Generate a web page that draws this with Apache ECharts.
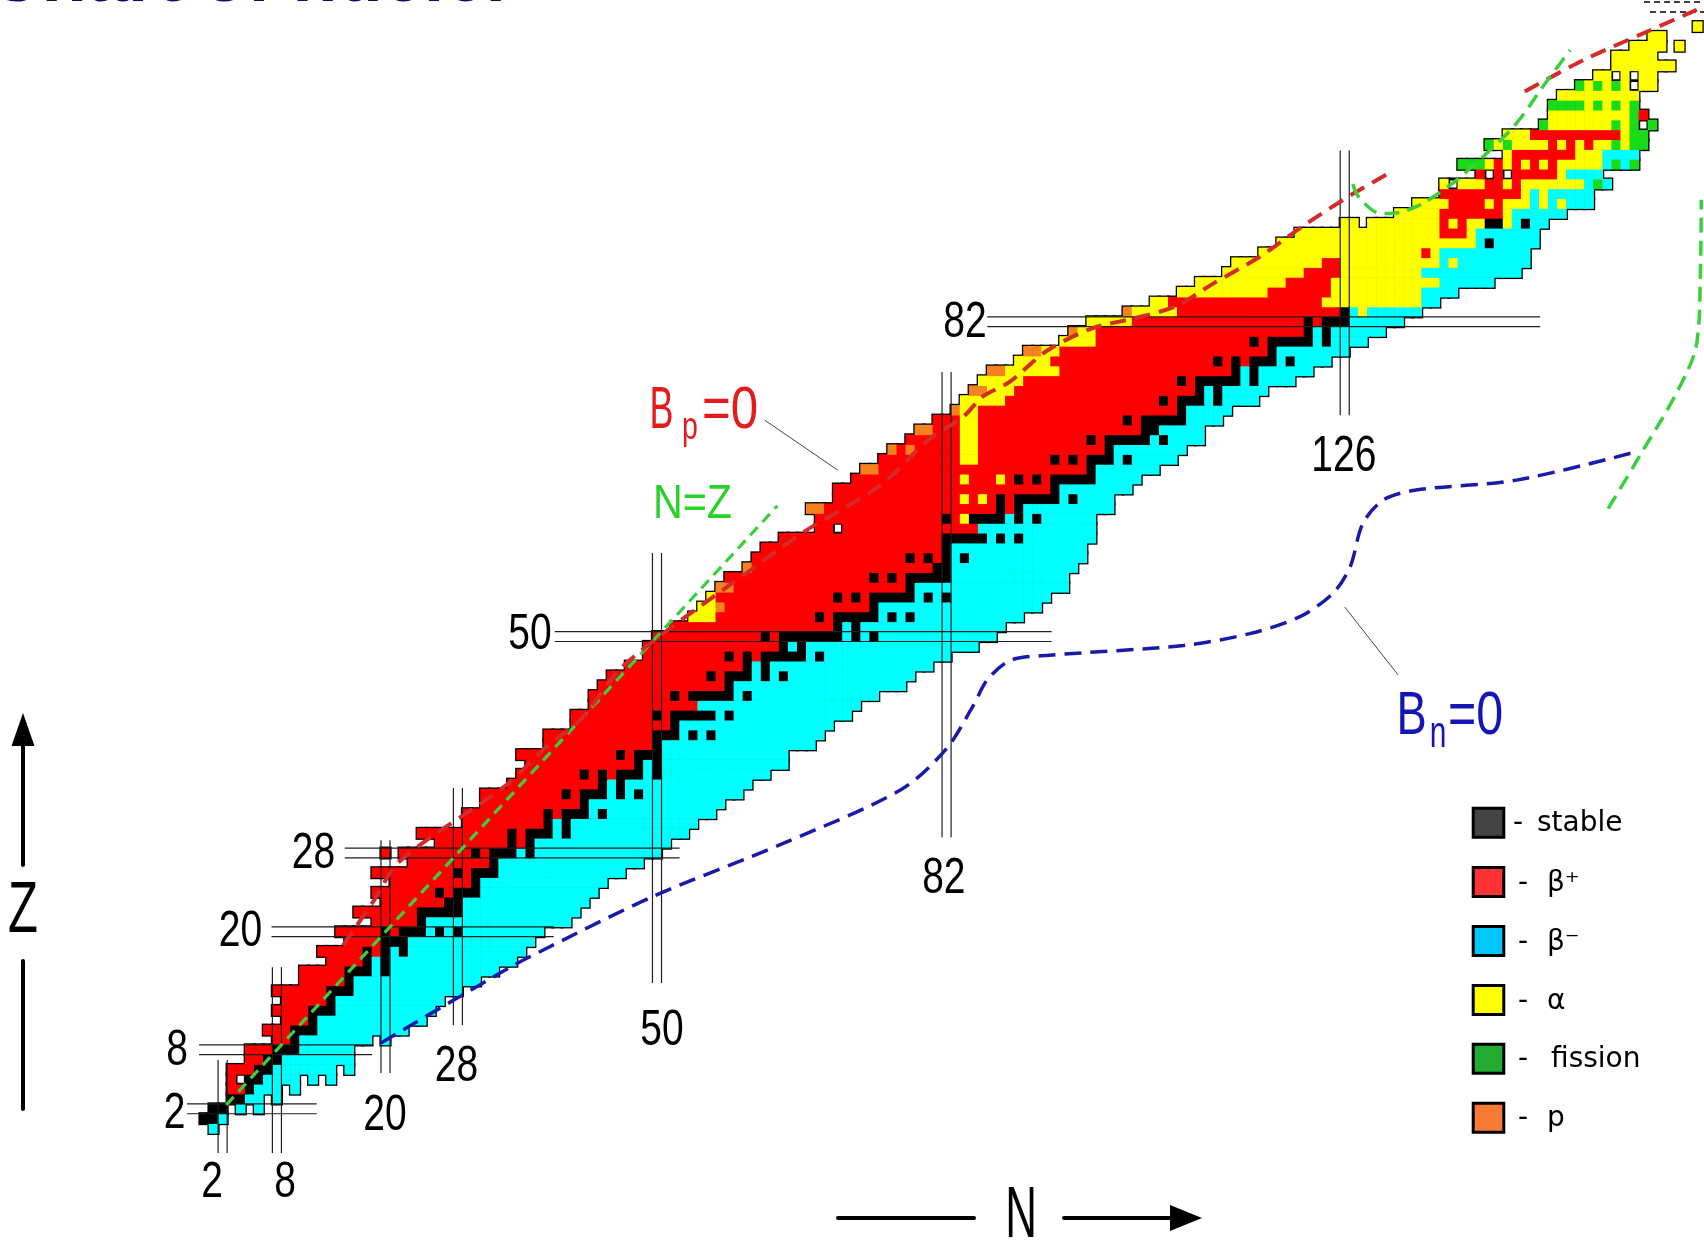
<!DOCTYPE html>
<html>
<head>
<meta charset="utf-8">
<script src="https://cdn.jsdelivr.net/npm/echarts@6/dist/echarts.min.js"></script>
<style>html,body{margin:0;padding:0;background:#fff;}#chart{width:1704px;height:1245px;}</style>
</head>
<body>
<div id="chart"></div>
<script>
// ---- nuclide rows: index = Z, first N of the row, run-length cell codes ----
// K stable, R beta+, C beta-, Y alpha, G fission, O proton, W unclassified, . none
const rowStartN = [1,0,1,3,3,3,3,5,5,8, 7,9,8,9,8,11,11,14,13,16, 15,19,17,20,19,21,19,23,20,26,
  24,29,29,31,31,34,35,36,35,38, 38,41,41,43,43,44,45,47,49,49, 50,52,54,55,56,57,58,60,61,62,
  64,68,68,67,70,70,72,73,75,76, 78,79,81,83,84,85,86,87,90,91, 95,96,98,102,105,108,110,113,114,117,
  119,121,126,132,134,137,137,141,139,144, 142,144,148,149,149,150,152,154,156,156, 158,160,165];
const rowCells = [
  "C","2KC","2K.C.C","2K2C.C","2RK3C.C","RW2K4C.C.C","3R2K7C.C","2R2K8C","3R3K6C","2RK8C.C",
  "3R3K10C","3RK12C","4R3K11C","5RK12C","6R3K12C","5RK14C","5R3KCK12C","4RKCK14C","5RKRKCK13C","4R3K14C",
  "5RKR3KCKCK9C","5RK16C","7R5K13C","7R2K14C","7RKR3K13C","9RK14C","9RKR3K14C","9RK16C","R.8RKR3KCK14C","8RKRK15C",
  "10RKR3KCK13C","9RKCK14C","9RKR3KCK12C","11RK15C","9RKR3KCKCK11C","10RKCK14C","7RKRKR3KCK12C","12RKCK14C","11RKR3K14C","12RK17C",
  "12R3KCKCK12C","11RK17C","9RKR5KCK13C","12R18C","9RKR5KCK14C","14RK19C","11RKR3KCKCK14C","13RKCK18C","9RKRKR5KCK14C","15RKCK19C",
  "12RKR7KCKCK13C","18RKCK16C","3Y11RKR5KCKCK12C","2YO16RK18C","Y13RKRKR5KCKCK11C","2O19RK17C","16RKRKR5K13C","O20R2K14C","17RKRKRKCK13C","20RK15C",
  "18R5KCKCK8C","2RW15R13C","14RKRY4KCKCK6C","2O19RKRK10C","14RYRYRKR5KCK4C","24RK8C","12RY3RYRKRKR5K5C","2O23RK7C","9R2Y8RKRKR3KCK5C","ORO5R2Y14RK8C",
  "6R2Y12RKR5KCK4C","2O3R2Y18R2K5C","3R2Y16RKR5K4C","O2Y22RK5C","5Y17RKR3KCK4C","2O3Y20RKCK5C","5Y17RKR5KCK4C","2O6Y19RKCK6C","4Y18RKRKR3KCK4C","2O2Y23RK8C",
  "4Y17RKR5KCK4C","O2Y23RKCK6C","5Y19RKR3K6C","O5Y18RKCY6C","2Y17R11Y2C","10Y7R10Y4C","10Y5R12Y6C","9Y4R9Y11C","10Y2R11YCY8C","18YRY10C",
  "22YCK5C","16Y3RY7C","2Y.8YRYR2Y2KYCK2C","5Y7RY6C","4Y4RYR3YCYCY3C","9RYCY5C","YW3Y2RYR7YCGC","RWRW5RY4C","3GYRYRYRYR5YCGCG","Y7R3Y4C",
  "GYG4YRYRYR2YGY2G","3Y10RY2G","G7YGYGWG","9YGR","4GYGYGYG","9Y","GYGYGYW2Y","2YWYW2Y","7Y","5Y",
  "4Y.Y","2Y","Y"
];

// ---- magic numbers ----
const magicN = [2, 8, 20, 28, 50, 82, 126];
const magicNSpanZ = [[-2.5,6.96],[-2.5,16.4],[5.64,29.3],[10.5,34.6],[14.8,58.5],[29.6,76.9],[72.5,99.4]];
const magicNLabelPos = [[0.83,-5.59],[8.9,-5.59],[19.94,1.27],[27.85,6.2],[50.55,9.86],[81.7,25.36],[125.9,68.2]];
const magicZ = [2, 8, 20, 28, 50, 82];
const magicZSpanN = [[-1.93,12.4],[-0.6,18.5],[7.4,38.6],[15.5,52.5],[38.7,93.6],[86.5,147.6]];
const magicZLabelPos = [[-3.31,1.42],[-3.04,7.88],[3.98,19.92],[12.04,27.85],[35.97,50.1],[84.03,81.8]];

// ---- drip lines and reference lines (N, Z) ----
const protonDrip1 = [[15.3,18.6],[18.6,23],[21.6,27.2],[33.2,34.8],[37.8,38.8],[41.5,41.5],[46.6,47.3],[61.9,57.8],[66.5,60.8],[70.4,62.9],[75,65.6],[80,70],[83.8,72.3],[86,74.4],[89,75.9],[93,79],[98,81.3],[103,82.4],[107.4,83.6],[111.5,85.9],[116.6,88.6],[121.5,91.8],[126.9,95],[131.1,97.2]];
const protonDrip2 = [[145.9,105.4],[152.4,108.6],[159.7,111.6],[164.9,113.7]];
const neutronDrip = [[19.5,8.7],[33.8,16.4],[38.2,18.5],[49.6,23.6],[64,29],[76.9,34.4],[81.9,38.5],[84.9,42.9],[86.5,45.6],[89.1,47.6],[93.4,48.1],[108.2,49.1],[115.5,50.3],[121,52],[124.7,54.4],[126.6,57.1],[128,61.5],[130.3,63.9],[133.9,64.9],[145,65.9],[158.3,68.8]];
const lineNZ = [[2.4,2.4],[63.3,63.3]];
const fissionTop = [[126.9,96.0],[127.7,94.5],[130.2,93],[132.8,93.3],[136.9,95.4],[141.3,98.8],[145,102.2],[147.9,105.9],[150.9,109.6]];
const fissionRight = [[155.1,63],[158.3,67.9],[163.4,76.1],[165.0,80.5],[165.3,87],[165.4,94.4]];
const bpPointer = [[61.9,72],[70,66.9]];
const bnPointer = [[126,53],[131.9,46.1]];

// ---- annotation texts: text, N, Z, size, colour, horizontal squeeze ----
const dripLabels = [
  ['B', 50.5, 72.9, 60, '#e31b1b', 0.6],
  ['p', 53.65, 71.1, 38, '#e31b1b', 0.75],
  ['=0', 58.07, 72.9, 60, '#e31b1b', 0.82],
  ['N=Z', 53.92, 63.36, 48, '#2ad12a', 0.86],
  ['B', 133.4, 41.87, 62, '#1515b5', 0.73],
  ['n', 136.3, 40.0, 44, '#1515b5', 0.68],
  ['=0', 140.46, 41.87, 62, '#1515b5', 0.78]
];

// ---- legend ----
const legendNames = ['stable', '\u03b2\u207a', '\u03b2\u207b', '\u03b1', 'fission', 'p'];
const legendColors = ['#444444', '#ff3333', '#00c8ff', '#ffff00', '#22aa33', '#f77b35'];

const cellColors = ['#000000', '#ff0000', '#00ffff', '#ffff00', '#18dc18', '#f5821f', '#ffffff'];
const CODES = 'KRCYGOW';

// build cell table from rows
const cells = [];
rowCells.forEach(function (rle, z) {
  let n = rowStartN[z];
  const re = /(\d*)([KRCYGOW.])/g;
  let m;
  while ((m = re.exec(rle)) !== null) {
    const k = m[1] ? parseInt(m[1], 10) : 1;
    for (let i = 0; i < k; i++) {
      if (m[2] !== '.') cells.push([n, z, CODES.indexOf(m[2])]);
      n++;
    }
  }
});

const NARROW = '"Liberation Sans", Arial, sans-serif';

function cellRect(api, pad) {
  const n = api.value(0), z = api.value(1);
  const a = api.coord([n - 0.5, z + 0.5]);
  const b = api.coord([n + 0.5, z - 0.5]);
  return { x: a[0] - pad, y: a[1] - pad, width: b[0] - a[0] + 2 * pad, height: b[1] - a[1] + 2 * pad };
}

function lineSeries(data, color, width, dash, smooth, z) {
  return {
    type: 'line', data: data, showSymbol: false, symbol: 'none', smooth: smooth,
    silent: true, animation: false, z: z,
    lineStyle: { color: color, width: width, type: dash, cap: 'butt' }
  };
}

const series = [];
// outline pass
series.push({
  type: 'custom', coordinateSystem: 'cartesian2d', data: cells, progressive: 0, silent: true, animation: false, z: 1,
  encode: { x: 0, y: 1 },
  renderItem: function (params, api) {
    return { type: 'rect', shape: cellRect(api, 1.6), style: { fill: '#000' } };
  }
});
// fill pass
series.push({
  type: 'custom', coordinateSystem: 'cartesian2d', data: cells, progressive: 0, silent: true, animation: false, z: 2,
  encode: { x: 0, y: 1 },
  renderItem: function (params, api) {
    const t = api.value(2);
    if (t === 6) {
      return { type: 'rect', shape: cellRect(api, -0.6), style: { fill: '#fff', stroke: '#000', lineWidth: 1.6 } };
    }
    return { type: 'rect', shape: cellRect(api, 0.3), style: { fill: cellColors[t] } };
  }
});

// magic number double lines
magicN.forEach(function (n, i) {
  [-0.5, 0.5].forEach(function (d) {
    series.push(lineSeries([[n + d, magicNSpanZ[i][0]], [n + d, magicNSpanZ[i][1]]], '#1e1e1e', 1.2, 'solid', false, 4));
  });
});
magicZ.forEach(function (zz, i) {
  [-0.5, 0.5].forEach(function (d) {
    series.push(lineSeries([[magicZSpanN[i][0], zz + d], [magicZSpanN[i][1], zz + d]], '#1e1e1e', 1.2, 'solid', false, 4));
  });
});

// reference curves
series.push(lineSeries(lineNZ, '#3ccf3c', 3.2, [11, 7], false, 5));
series.push(lineSeries(protonDrip1, '#d42a2a', 4, [16, 9], 0.3, 5));
series.push(lineSeries(protonDrip2, '#d42a2a', 4, [16, 9], 0.3, 5));
series.push(lineSeries(neutronDrip, '#1a1aa8', 3.5, [17, 9], 0.3, 5));
series.push(lineSeries(fissionTop, '#3ccf3c', 3.5, [15, 8], 0.4, 5));
series.push(lineSeries(fissionRight, '#3ccf3c', 3.5, [15, 8], 0.4, 5));
series.push(lineSeries(bpPointer, '#444', 1, 'solid', false, 5));
series.push(lineSeries(bnPointer, '#444', 1, 'solid', false, 5));

// text labels (magic numbers + curve names) placed in data space
const labelTable = [];
magicZ.forEach(function (zz, i) { labelTable.push([String(zz), magicZLabelPos[i][0], magicZLabelPos[i][1], 50, '#000', 0.78]); });
magicN.forEach(function (n, i) { labelTable.push([String(n), magicNLabelPos[i][0], magicNLabelPos[i][1], 50, '#000', 0.78]); });
dripLabels.forEach(function (l) { labelTable.push(l); });

series.push({
  type: 'custom', coordinateSystem: 'cartesian2d', silent: true, animation: false, z: 6,
  data: labelTable.map(function (l, i) { return [l[1], l[2], i]; }),
  encode: { x: 0, y: 1 },
  renderItem: function (params, api) {
    const l = labelTable[api.value(2)];
    const p = api.coord([api.value(0), api.value(1)]);
    return {
      type: 'text', x: p[0], y: p[1], scaleX: l[5], scaleY: 1,
      style: {
        text: l[0], x: 0, y: 0, fill: l[4], fontSize: l[3], fontFamily: NARROW,
        align: 'center', verticalAlign: 'middle', textAlign: 'center', textVerticalAlign: 'middle'
      }
    };
  }
});

// ---- page decorations (title, axis arrows, legend) ----
const graphic = [];
graphic.push({
  type: 'text', x: -12, y: -19, silent: true,
  style: { text: 'Chart of nuclei', fill: '#0b0b6b', font: 'bold 74px "Liberation Sans", Arial, sans-serif',
    align: 'left', verticalAlign: 'middle', textAlign: 'left', textVerticalAlign: 'middle' }
});
// Z arrow
graphic.push({ type: 'polygon', silent: true, shape: { points: [[23, 713], [11.5, 746], [34.5, 746]] }, style: { fill: '#000' } });
graphic.push({ type: 'line', silent: true, shape: { x1: 23, y1: 740, x2: 23, y2: 865 }, style: { stroke: '#000', lineWidth: 4, lineCap: 'round' } });
graphic.push({ type: 'line', silent: true, shape: { x1: 23, y1: 961, x2: 23, y2: 1109 }, style: { stroke: '#000', lineWidth: 4, lineCap: 'round' } });
graphic.push({ type: 'text', silent: true, x: 23, y: 912, scaleX: 0.68,
  style: { text: 'Z', x: 0, y: 0, fill: '#000', font: '72px "Liberation Sans", Arial, sans-serif', align: 'center', verticalAlign: 'middle', textAlign: 'center', textVerticalAlign: 'middle' } });
// N arrow
graphic.push({ type: 'line', silent: true, shape: { x1: 838, y1: 1218, x2: 974, y2: 1218 }, style: { stroke: '#000', lineWidth: 4, lineCap: 'round' } });
graphic.push({ type: 'line', silent: true, shape: { x1: 1064, y1: 1218, x2: 1175, y2: 1218 }, style: { stroke: '#000', lineWidth: 4, lineCap: 'round' } });
graphic.push({ type: 'polygon', silent: true, shape: { points: [[1202, 1218], [1170, 1205], [1170, 1231]] }, style: { fill: '#000' } });
graphic.push({ type: 'text', silent: true, x: 1021, y: 1217, scaleX: 0.61,
  style: { text: 'N', x: 0, y: 0, fill: '#000', font: '72px "Liberation Sans", Arial, sans-serif', align: 'center', verticalAlign: 'middle', textAlign: 'center', textVerticalAlign: 'middle' } });
// top-right small dashes
graphic.push({ type: 'line', silent: true, shape: { x1: 1644, y1: 2, x2: 1704, y2: 2 }, style: { stroke: '#000', lineWidth: 1.5, lineDash: [6, 4] } });
graphic.push({ type: 'line', silent: true, shape: { x1: 1650, y1: 12, x2: 1704, y2: 12 }, style: { stroke: '#000', lineWidth: 1.5, lineDash: [6, 4] } });
// legend
const legendTop = [806.7, 866, 925, 984, 1042.7, 1101.7];
legendNames.forEach(function (name, i) {
  const top = legendTop[i];
  graphic.push({ type: 'rect', silent: true, shape: { x: 1473.2, y: top + 1.5, width: 30.6, height: 29 },
    style: { fill: legendColors[i], stroke: '#000', lineWidth: 3 } });
  const cy = top + 17.5;
  graphic.push({ type: 'text', silent: true, x: i === 0 ? 1513 : 1518, y: cy,
    style: { text: '-', x: 0, y: 0, fill: '#000', font: '28px "DejaVu Sans", sans-serif', align: 'left', verticalAlign: 'middle', textAlign: 'left', textVerticalAlign: 'middle' } });
  graphic.push({ type: 'text', silent: true, x: i === 0 ? 1537 : (i === 4 ? 1551 : 1547), y: cy,
    style: { text: name, x: 0, y: 0, fill: '#000', font: '28px "DejaVu Sans", sans-serif', align: 'left', verticalAlign: 'middle', textAlign: 'left', textVerticalAlign: 'middle' } });
});

const chart = echarts.init(document.getElementById('chart'), null, { renderer: 'canvas' });
chart.setOption({
  backgroundColor: '#ffffff',
  animation: false,
  grid: { left: 0, right: 0, top: 0, bottom: 0, containLabel: false },
  xAxis: { type: 'value', min: -22.6, max: 165.7, show: false },
  yAxis: { type: 'value', min: -11.84, max: 114.7, show: false },
  series: series,
  graphic: graphic
});
</script>
</body>
</html>
